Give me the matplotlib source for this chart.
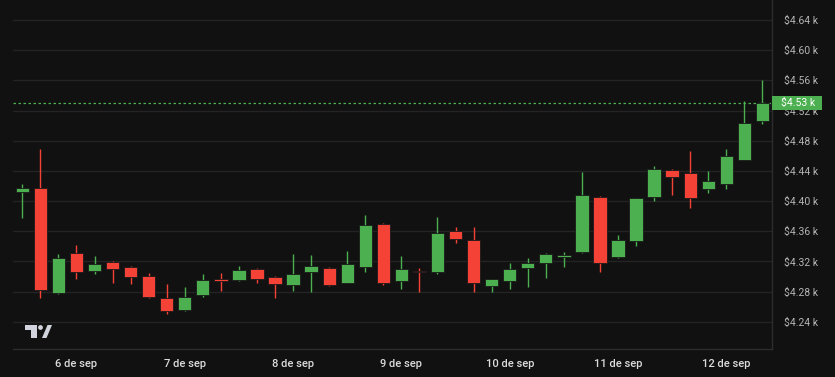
import matplotlib.pyplot as plt
import matplotlib.transforms as mtransforms
from matplotlib.patches import Rectangle, Circle, Polygon

# velas de 4 horas, de 5 sep 12:00 a 12 sep 08:00
opens = [4412, 4418, 4278, 4331, 4307, 4319, 4313, 4301, 4272, 4256,
         4275, 4297, 4296, 4310, 4300, 4289, 4306, 4312, 4292, 4313,
         4370, 4294, 4308, 4306, 4361, 4348, 4288, 4294, 4312, 4318,
         4326, 4332, 4406, 4326, 4347, 4406, 4441, 4437, 4416, 4422,
         4455, 4506]
highs = [4422, 4469, 4330, 4342, 4327, 4320, 4314, 4305, 4290, 4286,
         4304, 4305, 4314, 4311, 4301, 4330, 4328, 4313, 4334, 4382,
         4371, 4327, 4311, 4379, 4366, 4366, 4297, 4318, 4325, 4331,
         4333, 4438, 4407, 4355, 4404, 4446, 4442, 4466, 4440, 4469,
         4533, 4560]
lows = [4378, 4272, 4277, 4297, 4303, 4291, 4290, 4272, 4250, 4255,
        4273, 4281, 4294, 4292, 4271, 4281, 4280, 4288, 4291, 4306,
        4289, 4283, 4279, 4303, 4345, 4279, 4280, 4284, 4286, 4298,
        4313, 4331, 4306, 4325, 4340, 4400, 4408, 4391, 4411, 4416,
        4454, 4502]
closes = [4418, 4282, 4324, 4306, 4317, 4310, 4300, 4273, 4255, 4273,
          4296, 4294, 4309, 4297, 4290, 4304, 4314, 4289, 4316, 4368,
          4291, 4310, 4306, 4358, 4350, 4291, 4297, 4310, 4318, 4330,
          4329, 4408, 4318, 4348, 4404, 4442, 4432, 4404, 4427, 4460,
          4504, 4530]
last_price = 4530

day_ticks = [3, 9, 15, 21, 27, 33, 39]
day_labels = ["6 de sep", "7 de sep", "8 de sep", "9 de sep",
              "10 de sep", "11 de sep", "12 de sep"]
price_ticks = [4240, 4280, 4320, 4360, 4400, 4440, 4480, 4520, 4560, 4600, 4640]

bg = "#111111"
green = "#4caf50"
red = "#f44336"

plt.rcParams["font.family"] = ["Roboto", "DejaVu Sans"]

fig = plt.figure(figsize=(8.35, 3.77), dpi=100, facecolor=bg)
W, H = 835, 377
ax = fig.add_axes([13 / W, (H - 349) / H, 759 / W, 349 / H])
ax.set_facecolor(bg)

xs = list(range(len(opens)))
colors = [green if c >= o else red for o, c in zip(opens, closes)]

ax.vlines(xs, lows, highs, colors=colors, linewidth=1, zorder=3)
bottoms = [min(o, c) for o, c in zip(opens, closes)]
heights = [max(abs(c - o), 1.5) for o, c in zip(opens, closes)]
ax.bar(xs, heights, bottom=bottoms, width=0.74, color=colors,
       edgecolor="#1a1a1a", linewidth=0.6, zorder=4)

# linea del ultimo precio
ax.axhline(last_price, color=green, linestyle=(0, (2, 2)), linewidth=0.9, zorder=2)

ax.set_xlim(-0.515, 41.53)
ax.set_ylim(4204, 4666.5)

ax.set_yticks(price_ticks)
ax.set_yticklabels(["$%.2f k" % (p / 1000) for p in price_ticks])
ax.yaxis.tick_right()
ax.tick_params(axis="y", length=0, pad=9, labelsize=7.5, labelcolor="#b4b4b4")
ax.set_xticks(day_ticks)
ax.set_xticklabels(day_labels, fontweight="medium")
ax.tick_params(axis="x", length=0, pad=7, labelsize=8, labelcolor="#dcdcdc")

ax.grid(axis="y", color="#242424", linewidth=1)
ax.set_axisbelow(True)
for side in ["top", "left"]:
    ax.spines[side].set_visible(False)
for side in ["right", "bottom"]:
    ax.spines[side].set_color("#2c2c2c")
    ax.spines[side].set_linewidth(1)

# etiqueta del precio actual sobre el eje
trans = mtransforms.blended_transform_factory(ax.transAxes, ax.transData)
ax.add_patch(Rectangle((1.0, last_price - 9.5), 50 / 759, 19, transform=trans,
                       facecolor=green, edgecolor="none", clip_on=False, zorder=10))
ax.text(1.0 + 9 / 759, last_price, "$%.2f k" % (last_price / 1000), transform=trans,
        color="white", fontsize=7.5, va="center", ha="left", zorder=11, clip_on=False)

# logo aproximado abajo a la izquierda
px = mtransforms.IdentityTransform()
logo = "#d1d4dc"
fig.patches.append(Rectangle((25, H - 330), 12, 5, transform=px, facecolor=logo, edgecolor="none"))
fig.patches.append(Rectangle((31, H - 338), 6, 13, transform=px, facecolor=logo, edgecolor="none"))
fig.patches.append(Circle((40.5, H - 327.5), 2.4, transform=px, facecolor=logo, edgecolor="none"))
fig.patches.append(Polygon([(42, H - 338), (46.5, H - 338), (52, H - 325), (47.5, H - 325)],
                           transform=px, facecolor=logo, edgecolor="none"))

fig.savefig("out.png", dpi=100, facecolor=bg)
